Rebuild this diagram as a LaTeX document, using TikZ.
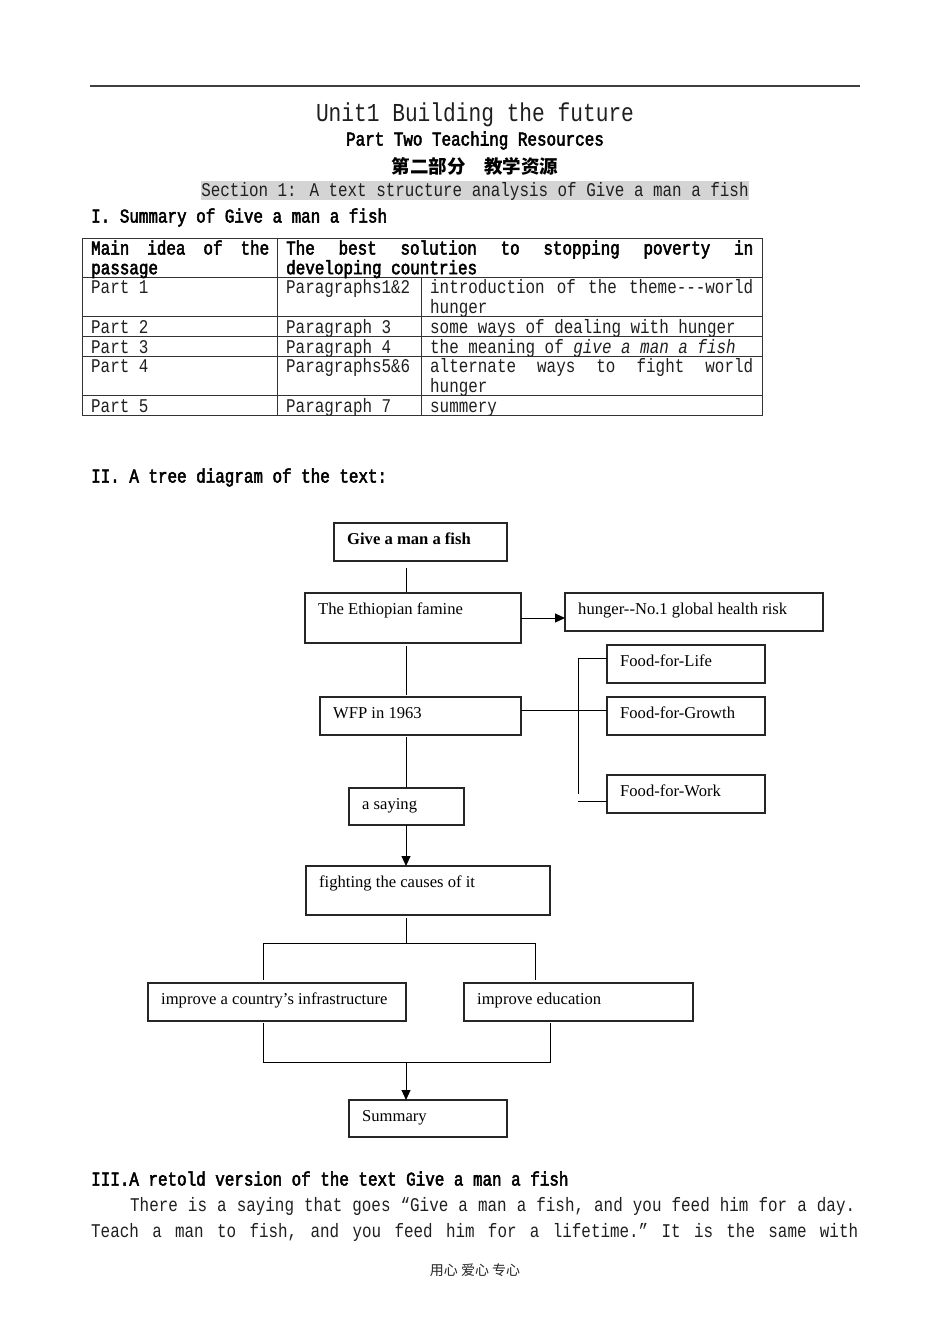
\documentclass[tikz,border=0pt]{standalone}
\usepackage{fontspec}
\usetikzlibrary{arrows.meta}
\newfontfamily\mnf[FakeStretch=0.82]{Liberation Mono}
\newfontfamily\mnbf[FakeStretch=0.82,FakeBold=2.6]{Liberation Mono}
\newfontfamily\cjkf{Noto Sans CJK SC}
\newfontfamily\dgf{Liberation Serif}
\begin{document}
\begin{tikzpicture}[x=1pt,y=-1pt,
  box/.style={draw=black!85, line width=1.1pt, anchor=north west, inner sep=0pt, outer sep=0pt},
  lbl/.style={anchor=base west, inner sep=0pt, xshift=13pt, yshift=-21pt, font=\dgf\fontsize{16.6}{20}\selectfont},
  conn/.style={draw=black, line width=1pt},
  arr/.style={conn, -{Triangle[length=10pt,width=9pt]}},
  mt/.style={anchor=base west, inner sep=0pt, text=black!88, font=\mnf\fontsize{19.4}{19.7}\selectfont},
  mb/.style={mt, text=black, font=\mnbf\fontsize{19.4}{19.7}\selectfont},
  mc/.style={mt, anchor=base},
  tbl/.style={draw=black!80, line width=0.9pt},
]
\useasboundingbox[fill=white] (0,0) rectangle (950,1344);

% header
\draw[black!75, line width=1.5pt] (90,86) -- (860,86);
\node[mc, font=\mnf\fontsize{25.85}{28}\selectfont] (title) at (475,121) {Unit1 Building the future};
\node[mb, anchor=base] (sub) at (475,145.5) {Part Two Teaching Resources};
\node[mc, text=black, font=\cjkf\bfseries\fontsize{18.5}{20}\selectfont] (cn) at (475,173) {第二部分　教学资源};
\fill[black!17] (201,181) rectangle (749,200);
\node[mc] (sec) at (475,196.5) {Section 1: A text structure analysis of Give a man a fish};
\node[mb] (h1) at (91,222.5) {I. Summary of Give a man a fish};

% table
\draw[tbl] (82,238) rectangle (762,415.3);
\foreach \yy in {277.4,316.8,336.5,356.2,395.6} \draw[tbl] (82,\yy) -- (762,\yy);
\draw[tbl] (277,238) -- (277,415.3);
\draw[tbl] (421,277.4) -- (421,415.3);

\node[mb] (a1) at (91,254.5) {\makebox[178pt][s]{Main\hfill idea\hfill of\hfill the}};
\node[mb] (a2) at (91,274.2) {passage};
\node[mb] (b1) at (286,254.5) {\makebox[467pt][s]{The\hfill best\hfill solution\hfill to\hfill stopping\hfill poverty\hfill in}};
\node[mb] (b2) at (286,274.2) {developing countries};

\node[mt] (p1) at (91,293.9) {Part 1};
\node[mt] (q1) at (286,293.9) {Paragraphs1\&2};
\node[mt] (r1) at (430,293.9) {\makebox[323pt][s]{introduction\hfill of\hfill the\hfill theme-{}-{}-world}};
\node[mt] (r1b) at (430,313.6) {hunger};

\node[mt] (p2) at (91,333.3) {Part 2};
\node[mt] (q2) at (286,333.3) {Paragraph 3};
\node[mt] (r2) at (430,333.3) {some ways of dealing with hunger};

\node[mt] (p3) at (91,353) {Part 3};
\node[mt] (q3) at (286,353) {Paragraph 4};
\node[mt] (r3) at (430,353) {the meaning of \textit{give a man a fish}};

\node[mt] (p4) at (91,372.7) {Part 4};
\node[mt] (q4) at (286,372.7) {Paragraphs5\&6};
\node[mt] (r4) at (430,372.7) {\makebox[323pt][s]{alternate\hfill ways\hfill to\hfill fight\hfill world}};
\node[mt] (r4b) at (430,392.4) {hunger};

\node[mt] (p5) at (91,412.1) {Part 5};
\node[mt] (q5) at (286,412.1) {Paragraph 7};
\node[mt] (r5) at (430,412.1) {summery};

\node[mb] (h2) at (91,482.5) {II. A tree diagram of the text:};

% tree diagram
\node[box, minimum width=173pt, minimum height=38pt, label={[lbl]north west:\bfseries Give a man a fish}] (give) at (334,523) {};
\node[box, minimum width=216pt, minimum height=50pt, label={[lbl]north west:The Ethiopian famine}] (eth) at (305,593) {};
\node[box, minimum width=258pt, minimum height=38pt, label={[lbl]north west:hunger-{}-No.1 global health risk}] (hunger) at (565,593) {};
\node[box, minimum width=201pt, minimum height=38pt, label={[lbl]north west:WFP in 1963}] (wfp) at (320,697) {};
\node[box, minimum width=158pt, minimum height=38pt, label={[lbl]north west:Food-for-Life}] (life) at (607,645) {};
\node[box, minimum width=158pt, minimum height=38pt, label={[lbl]north west:Food-for-Growth}] (growth) at (607,697) {};
\node[box, minimum width=158pt, minimum height=38pt, label={[lbl]north west:Food-for-Work}] (work) at (607,775) {};
\node[box, minimum width=115pt, minimum height=37pt, label={[lbl]north west:a saying}] (saying) at (349,788) {};
\node[box, minimum width=244pt, minimum height=49pt, label={[lbl]north west:fighting the causes of it}] (fight) at (306,866) {};
\node[box, minimum width=258pt, minimum height=38pt, label={[lbl]north west:improve a country’s infrastructure}] (infra) at (148,983) {};
\node[box, minimum width=229pt, minimum height=38pt, label={[lbl]north west:improve education}] (edu) at (464,983) {};
\node[box, minimum width=158pt, minimum height=37pt, label={[lbl]north west:Summary}] (summary) at (349,1100) {};

\coordinate (trunk) at (406,0);
\coordinate (fb) at (578,0);
\coordinate (jl) at (263,943);
\coordinate (jr) at (535,943);
\coordinate (jm) at (406,943);
\coordinate (kl) at (263,1062);
\coordinate (kr) at (550,1062);
\coordinate (km) at (406,1062);
\coordinate (wg) at ([yshift=6pt]wfp.east);
\coordinate (lw) at ([yshift=6pt]life.west);
\coordinate (ww) at ([yshift=-7pt]work.west);

\draw[conn, shorten <=7pt, shorten >=1pt] (give.south -| trunk) -- (eth.north -| trunk);
\draw[arr] (eth.east) -- (eth.east -| hunger.west);
\draw[conn, shorten <=3pt, shorten >=2pt] (eth.south -| trunk) -- (wfp.north -| trunk);
\draw[conn] (wg) -- (wg -| growth.west);
\draw[conn] (lw) -- (lw -| fb) -- (work.west -| fb);
\draw[conn] (ww -| fb) -- (ww);
\draw[conn, shorten <=2pt, shorten >=1pt] (wfp.south -| trunk) -- (saying.north -| trunk);
\draw[arr] (saying.south -| trunk) -- (fight.north -| trunk);
\draw[conn, shorten <=3pt] (fight.south -| trunk) -- (jm);
\draw[conn, shorten <=3pt, shorten >=3pt] (infra.north -| jl) -- (jl) -- (jr) -- (edu.north -| jr);
\draw[conn, shorten <=2pt, shorten >=2pt] (infra.south -| kl) -- (kl) -- (kr) -- (edu.south -| kr);
\draw[arr] (km) -- (summary.north -| trunk);

% part III
\node[mb] (h3) at (91,1185.5) {III.A retold version of the text Give a man a fish};
\node[mt] (l1) at (130,1211.5) {\makebox[725pt][s]{There\hfill is\hfill a\hfill saying\hfill that\hfill goes\hfill “Give\hfill a\hfill man\hfill a\hfill fish,\hfill and\hfill you\hfill feed\hfill him\hfill for\hfill a\hfill day.}};
\node[mt] (l2) at (91,1237.5) {\makebox[767pt][s]{Teach\hfill a\hfill man\hfill to\hfill fish,\hfill and\hfill you\hfill feed\hfill him\hfill for\hfill a\hfill lifetime.”\hfill It\hfill is\hfill the\hfill same\hfill with}};
\node[anchor=base, inner sep=0pt, text=black!85, font=\cjkf\fontsize{14}{16}\selectfont] (foot) at (475,1275) {用心 爱心 专心};
\end{tikzpicture}
\end{document}
